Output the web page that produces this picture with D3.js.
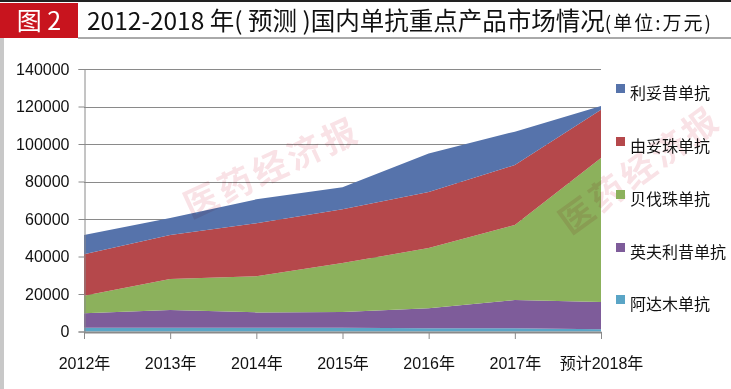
<!DOCTYPE html>
<html>
<head>
<meta charset="utf-8">
<script src="https://cdn.jsdelivr.net/npm/d3@7"></script>
<style>
  body { margin: 0; background: #fff; }
  svg text { font-family: "Liberation Sans Narrow", "Liberation Sans", "Noto Sans CJK SC", sans-serif; }
</style>
</head>
<body>
<div class="board"></div>
<script>
var years = ["2012年", "2013年", "2014年", "2015年", "2016年", "2017年", "预计2018年"];
var seriesNames = ["阿达木单抗", "英夫利昔单抗", "贝伐珠单抗", "由妥珠单抗", "利妥昔单抗"];
var adalimumab = [2000, 2000, 2000, 2000, 1800, 1800, 1200];
var infliximab = [7700, 9500, 8200, 8400, 10600, 15000, 14500];
var bevacizumab = [9400, 16500, 19300, 26100, 32100, 40000, 76800];
var trastuzumab = [22100, 23500, 28200, 28700, 29900, 32000, 25800];
var rituximab = [10300, 9000, 12800, 11800, 20600, 17800, 2000];
var yTicks = [0, 20000, 40000, 60000, 80000, 100000, 120000, 140000];
var colors = ["#5aa5c6", "#7e5c9a", "#8cb15c", "#b5484b", "#5673ab"];

var chart = function () {
  var W = 731, H = 389;
  var plot = { left: 84, right: 601, top: 69, bottom: 331.5 };

  var svg = d3.select(".board").append("svg")
    .attr("width", W)
    .attr("height", H);

  // frame bits: top rule, left grey strip, title box
  svg.append("rect").attr("x", 0).attr("y", 0).attr("width", W).attr("height", 2).attr("fill", "#222");
  svg.append("rect").attr("x", 0).attr("y", 38).attr("width", 4).attr("height", H - 38).attr("fill", "#c8c8c8");
  svg.append("rect").attr("x", 0).attr("y", 3).attr("width", 78).attr("height", 35).attr("fill", "#c8141e");
  svg.append("line").attr("x1", 78).attr("x2", W).attr("y1", 38).attr("y2", 38)
    .attr("stroke", "#555").attr("stroke-width", 1);
  svg.append("text").attr("x", 39).attr("y", 30).attr("text-anchor", "middle")
    .attr("fill", "#fff").style("font-family", "'Noto Sans CJK SC', sans-serif")
    .style("font-size", "25px").text("图 2");
  var title = svg.append("text").attr("x", 87).attr("y", 30)
    .style("font-family", "'Noto Sans CJK SC', sans-serif").attr("fill", "#111");
  title.append("tspan").style("font-size", "24.5px").text("2012-2018 年( 预测 )国内单抗重点产品市场情况");
  title.append("tspan").style("font-size", "19px").style("letter-spacing", "2px").text("(单位:万元)");

  var x = d3.scalePoint().domain(years).range([plot.left, plot.right]);
  var y = d3.scaleLinear().domain([0, 140000]).range([plot.bottom, plot.top]);

  // gridlines
  svg.append("g").selectAll("line").data(yTicks.slice(1)).enter().append("line")
    .attr("x1", plot.left).attr("x2", plot.right)
    .attr("y1", function (d) { return Math.round(y(d)) + 0.5; })
    .attr("y2", function (d) { return Math.round(y(d)) + 0.5; })
    .attr("stroke", "#8a8a8a").attr("stroke-width", 1);

  // stacked areas
  var rows = years.map(function (yr, i) {
    return { year: yr, s0: adalimumab[i], s1: infliximab[i], s2: bevacizumab[i], s3: trastuzumab[i], s4: rituximab[i] };
  });
  var stack = d3.stack().keys(["s0", "s1", "s2", "s3", "s4"]);
  var layers = stack(rows);
  var area = d3.area()
    .x(function (d) { return x(d.data.year); })
    .y0(function (d) { return y(d[0]); })
    .y1(function (d) { return y(d[1]); });

  svg.append("g").selectAll("path").data(layers).enter().append("path")
    .attr("d", area)
    .attr("fill", function (d, i) { return colors[i]; });

  // y axis
  var yAxis = svg.append("g").attr("transform", "translate(" + (plot.left + 0.5) + ",0)")
    .call(d3.axisLeft(y).tickValues(yTicks).tickSize(6).tickPadding(9).tickFormat(d3.format("d")));
  yAxis.selectAll("line, path").attr("stroke", "#8a8a8a");
  yAxis.selectAll("text").style("font-size", "16px").attr("fill", "#111");

  // x axis
  var xAxis = svg.append("g").attr("transform", "translate(0," + (plot.bottom + 0.5) + ")")
    .call(d3.axisBottom(x).tickSize(7).tickPadding(19).tickSizeOuter(0));
  xAxis.select("path").attr("stroke", "#8a8a8a").attr("stroke-width", 2);
  xAxis.selectAll("line").attr("stroke", "#8a8a8a");
  xAxis.selectAll("text").style("font-size", "16px").attr("fill", "#111");

  // watermark
  var marks = [[272, 168, -25], [640, 170, -36]];
  svg.append("g").selectAll("text").data(marks).enter().append("text")
    .attr("transform", function (d) { return "translate(" + d[0] + "," + d[1] + ") rotate(" + d[2] + ")"; })
    .attr("text-anchor", "middle").attr("dy", "0.35em")
    .style("font-family", "'Noto Sans CJK SC', sans-serif").style("font-size", "34px")
    .style("font-weight", "bold").style("letter-spacing", "4px")
    .style("mix-blend-mode", "multiply")
    .attr("fill", "#e58c9a").attr("opacity", 0.25)
    .text("医药经济报");

  // legend, top series first
  var legendTop = [84, 137, 190, 243, 295];
  var legend = svg.append("g").selectAll("g").data(seriesNames.slice().reverse()).enter().append("g")
    .attr("transform", function (d, i) { return "translate(616," + legendTop[i] + ")"; });
  legend.append("rect").attr("x", 0).attr("y", 0).attr("width", 9).attr("height", 9)
    .attr("fill", function (d, i) { return colors[colors.length - 1 - i]; });
  legend.append("text").attr("x", 14).attr("y", 15)
    .style("font-family", "'Noto Sans CJK SC', sans-serif")
    .style("font-size", "16px").attr("fill", "#111").text(function (d) { return d; });
};

chart();
</script>
</body>
</html>
